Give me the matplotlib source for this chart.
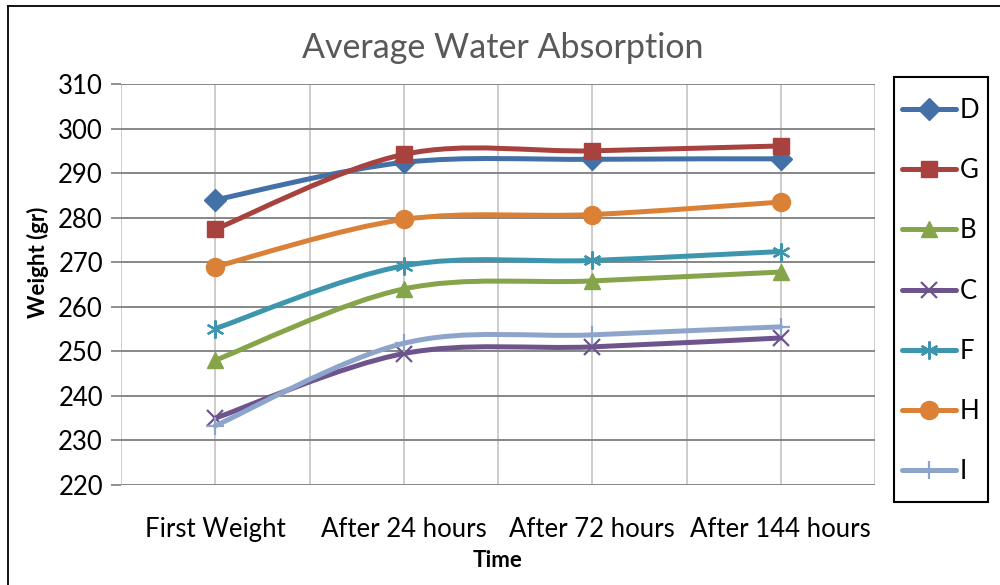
import numpy as np
import matplotlib
matplotlib.use("Agg")
import matplotlib.pyplot as plt
from matplotlib.path import Path
from matplotlib.patches import PathPatch, Rectangle
from matplotlib.lines import Line2D

# categories and series (weights in gr)
times = ["First Weight", "After 24 hours", "After 72 hours", "After 144 hours"]
D = [284.0, 292.4, 293.1, 293.2]
G = [277.4, 294.2, 295.0, 296.1]
B = [248.0, 264.0, 265.8, 267.8]
C = [235.0, 249.5, 251.0, 253.0]
F = [255.1, 269.2, 270.4, 272.4]
H = [269.0, 279.6, 280.7, 283.5]
I = [233.3, 251.8, 253.7, 255.5]

series = [
    ("D", D, "#4470A8", "D", 11, "full"),
    ("G", G, "#A8423F", "s", 12, "full"),
    ("B", B, "#86A44A", "^", 12, "full"),
    ("C", C, "#6E548D", "x", 11, "none"),
    ("F", F, "#3D96AE", (6, 2, 0), 13, "none"),
    ("H", H, "#DA8137", "o", 13, "full"),
    ("I", I, "#8EA5CB", "+", 13, "none"),
]

plt.rcParams['font.family'] = ['Lato', 'DejaVu Sans']


def smooth_path(xs, ys):
    # bezier path through the points, like Excel's smoothed line
    pts = np.column_stack([xs, ys]).astype(float)
    n = len(pts)
    verts = [pts[0]]
    codes = [Path.MOVETO]
    for i in range(n - 1):
        p0 = pts[max(i - 1, 0)]
        p1 = pts[i]
        p2 = pts[i + 1]
        p3 = pts[min(i + 2, n - 1)]
        verts += [p1 + (p2 - p0) / 6, p2 - (p3 - p1) / 6, p2]
        codes += [Path.CURVE4] * 3
    return Path(verts, codes)


fig = plt.figure(figsize=(10, 5.85), dpi=100)
ax = fig.add_axes([0.121, 1 - 485 / 585, 0.754, (485 - 84) / 585])

x = np.arange(len(times))
handles = []
for z, (name, vals, col, mk, ms, fill) in enumerate(series):
    patch = PathPatch(smooth_path(x, vals), facecolor="none", edgecolor=col,
                      lw=3.6, capstyle="round", joinstyle="round", zorder=3 + z)
    ax.add_patch(patch)
    mew = 1.6 if fill == "none" else 1
    ax.plot(x, vals, ls="none", marker=mk, ms=ms, color=col, mec=col,
            mew=mew, zorder=3 + z)
    handles.append(Line2D([], [], color=col, lw=3.6, solid_capstyle="round",
                          marker=mk, ms=ms, mec=col, mew=mew, label=name))

ax.set_xlim(-0.5, len(times) - 0.5)
ax.set_ylim(220, 310)
ax.set_yticks(np.arange(220, 311, 10))
ax.set_xticks(x)
ax.set_xticklabels(times, fontsize=18.5)
ax.tick_params(axis="x", length=0, pad=23)
ax.tick_params(axis="y", length=7, width=1.3, color="#868686", labelsize=18.5, pad=6)

for v in np.arange(-0.5, len(times), 0.5):
    ax.axvline(v, color="#BFBFBF", lw=1.1, zorder=1)
for v in np.arange(220, 311, 10):
    ax.axhline(v, color="#868686", lw=1.4, zorder=1)
for s in ax.spines.values():
    s.set_visible(False)

ax.set_xlabel("Time", fontsize=16, fontweight="bold", labelpad=6)
fig.text(0.038, 1 - 262.5 / 585, "Weight (gr)", rotation=90, ha="center", va="center",
         fontsize=16, fontweight="bold")
fig.text(0.503, 1 - 48 / 585, "Average Water Absorption", ha="center", va="center",
         fontsize=24.5, color="#595959")

# legend box drawn separately so its padding can match
fig.add_artist(Rectangle((0.894, 1 - 502 / 585), 0.094, 425 / 585, transform=fig.transFigure,
                         facecolor="white", edgecolor="black", lw=1.5, zorder=5))
leg = fig.legend(handles=handles, loc="upper left", bbox_to_anchor=(0.902, 1 - 98 / 585),
                 fontsize=18.5, frameon=False, labelspacing=1.37, handlelength=2.1,
                 handletextpad=0.15, borderpad=0, borderaxespad=0)
leg.set_zorder(6)

# outer chart border (left and top visible)
fig.add_artist(Line2D([0.008, 0.008], [0, 1 - 6 / 585], color="black", lw=1.3))
fig.add_artist(Line2D([0.008, 1], [1 - 6 / 585, 1 - 6 / 585], color="black", lw=1.3))

fig.savefig("out.png", dpi=100)
